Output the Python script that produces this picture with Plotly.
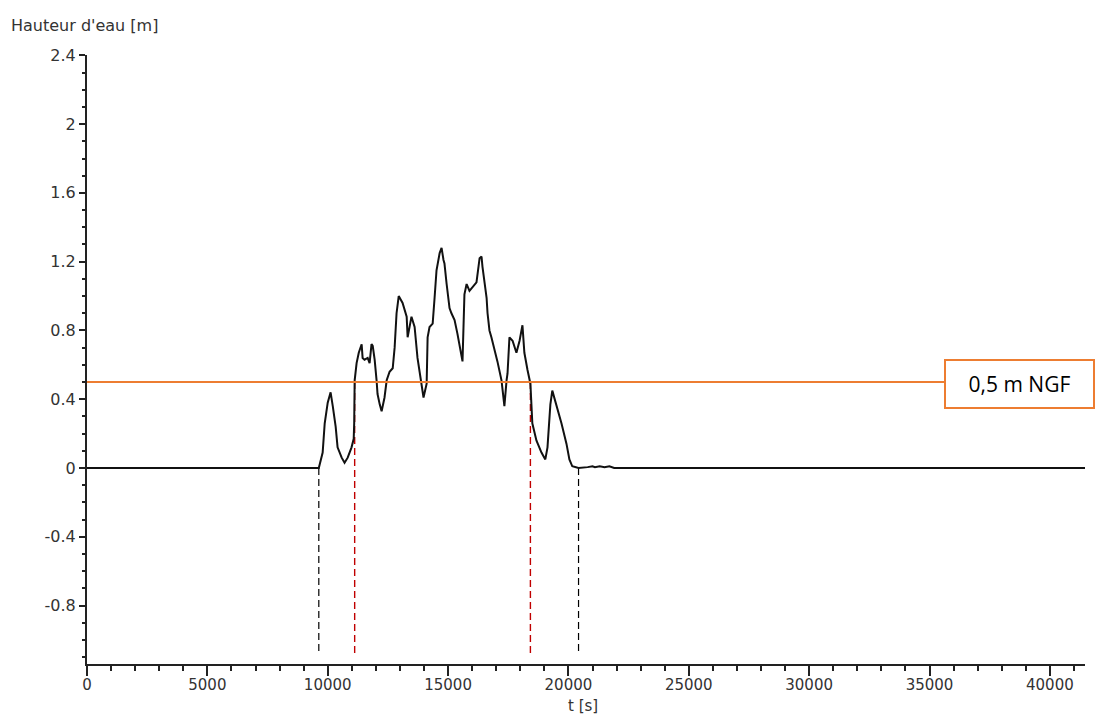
import plotly.graph_objects as go

# ---- data ----
t_s = [0, 9630, 9790, 9875, 10000, 10120, 10210, 10330, 10410, 10580, 10700,
       10830, 10990, 11080, 11100, 11120, 11200, 11290, 11410, 11450, 11530,
       11660, 11740, 11820, 11870, 11950, 12030, 12070, 12160, 12240, 12360,
       12450, 12570, 12700, 12780, 12860, 12950, 13110, 13280, 13320, 13480,
       13610, 13730, 13900, 13980, 14110, 14150, 14230, 14360, 14440, 14520,
       14650, 14730, 14810, 14850, 14940, 15060, 15140, 15270, 15390, 15560,
       15600, 15680, 15770, 15890, 16020, 16180, 16310, 16390, 16430, 16510,
       16600, 16640, 16720, 16800, 16930, 17050, 17220, 17340, 17430, 17470,
       17550, 17680, 17840, 17970, 18090, 18170, 18300, 18420, 18500, 18670,
       18880, 19040, 19130, 19250, 19330, 19500, 19710, 19920, 20040, 20160,
       20370, 20420, 20800, 21000, 21100, 21300, 21500, 21700, 21900, 41460]
h_m = [0, 0, 0.09, 0.26, 0.38, 0.44, 0.36, 0.24, 0.12, 0.06, 0.03,
       0.06, 0.12, 0.17, 0.26, 0.51, 0.61, 0.67, 0.72, 0.64, 0.63,
       0.64, 0.61, 0.72, 0.71, 0.63, 0.51, 0.43, 0.37, 0.33, 0.41,
       0.51, 0.56, 0.58, 0.70, 0.90, 1.00, 0.96, 0.88, 0.76, 0.88,
       0.82, 0.64, 0.47, 0.41, 0.49, 0.76, 0.82, 0.84, 0.99, 1.15,
       1.25, 1.28, 1.21, 1.19, 1.07, 0.93, 0.90, 0.86, 0.78, 0.64,
       0.62, 1.01, 1.07, 1.03, 1.05, 1.08, 1.22, 1.23, 1.17, 1.09,
       0.99, 0.90, 0.80, 0.76, 0.69, 0.62, 0.51, 0.36, 0.51, 0.55,
       0.76, 0.74, 0.67, 0.74, 0.83, 0.67, 0.57, 0.49, 0.26, 0.16,
       0.09, 0.05, 0.12, 0.37, 0.45, 0.37, 0.26, 0.14, 0.05, 0.01,
       0.0, 0.0, 0.005, 0.01, 0.005, 0.01, 0.005, 0.01, 0.0, 0]

threshold_m = 0.5
threshold_label = "0,5 m NGF"
start_end_times = [9630, 20420]      # black dashed markers (water arrives / leaves)
threshold_times = [11120, 18420]     # red dashed markers (crossing 0.5 m)
marker_bottom = -1.08

x_tick_vals = [0, 5000, 10000, 15000, 20000, 25000, 30000, 35000, 40000]
x_tick_text = ["0", "5000", "10000", "15000", "20000", "25000", "30000", "35000", "40000"]
y_tick_vals = [-0.8, -0.4, 0, 0.4, 0.8, 1.2, 1.6, 2.0, 2.4]
y_tick_text = ["-0.8", "-0.4", "0", "0.4", "0.8", "1.2", "1.6", "2", "2.4"]

x_range = [0, 41460]
y_range = [-1.14, 2.402]

fig = go.Figure()

for tv in start_end_times:
    fig.add_trace(go.Scatter(x=[tv, tv], y=[0, marker_bottom], mode="lines",
                             line=dict(color="#000000", width=1.2, dash="7px,4px"),
                             showlegend=False, hoverinfo="skip"))
for tv in threshold_times:
    fig.add_trace(go.Scatter(x=[tv, tv], y=[threshold_m, marker_bottom], mode="lines",
                             line=dict(color="#C00000", width=1.4, dash="7px,4px"),
                             showlegend=False, hoverinfo="skip"))

fig.add_trace(go.Scatter(x=t_s, y=h_m, mode="lines",
                         line=dict(color="#111111", width=2),
                         showlegend=False))

# threshold line
fig.add_shape(type="line", xref="paper", yref="y", x0=0, x1=0.859,
              y0=threshold_m, y1=threshold_m,
              line=dict(color="#ED7D31", width=2))

fig.add_annotation(xref="paper", yref="y", x=0.934, y=0.487,
                   text=threshold_label, showarrow=False,
                   font=dict(family="Open Sans", size=21, color="#000000"),
                   bordercolor="#ED7D31", borderwidth=2, borderpad=0,
                   bgcolor="#ffffff", width=147, height=46,
                   xanchor="center", yanchor="middle")

tick_font = dict(family="DejaVu Sans", size=16, color="#333333")
x_font = dict(family="DejaVu Sans", size=15, color="#333333")

fig.add_annotation(xref="paper", yref="paper", x=-0.0782, y=1.049,
                   text="Hauteur d'eau [m]", showarrow=False,
                   font=tick_font, xanchor="left", yanchor="middle")
fig.add_annotation(xref="paper", yref="paper", x=0.497, y=-0.069,
                   text="t [s]", showarrow=False,
                   font=x_font, xanchor="center", yanchor="middle")

fig.update_xaxes(range=x_range, tickmode="array", tickvals=x_tick_vals, ticktext=x_tick_text,
                 ticks="outside", ticklen=10, tickwidth=1.5, tickcolor="#222222",
                 showline=True, linecolor="#222222", linewidth=2, ticklabelstandoff=-4,
                 showgrid=False, zeroline=False, tickfont=x_font,
                 minor=dict(tickmode="linear", tick0=0, dtick=1000, ticks="outside",
                            ticklen=5, tickwidth=1.5, tickcolor="#222222", showgrid=False))
fig.update_yaxes(range=y_range, tickmode="array", tickvals=y_tick_vals, ticktext=y_tick_text,
                 ticks="outside", ticklen=6, tickwidth=1.5, tickcolor="#222222",
                 showline=True, linecolor="#222222", linewidth=2,
                 showgrid=False, zeroline=False, tickfont=tick_font,
                 minor=dict(tickmode="linear", tick0=0, dtick=0.1, ticks="outside",
                            ticklen=3, tickwidth=1.5, tickcolor="#222222", showgrid=False))

fig.update_layout(width=1096, height=714,
                  margin=dict(l=87, r=11, t=55, b=50),
                  plot_bgcolor="#ffffff", paper_bgcolor="#ffffff",
                  showlegend=False)

fig.write_html("out.html", config={"displayModeBar": False},
               post_script="document.body.style.margin='0';document.body.style.overflow='hidden';")
